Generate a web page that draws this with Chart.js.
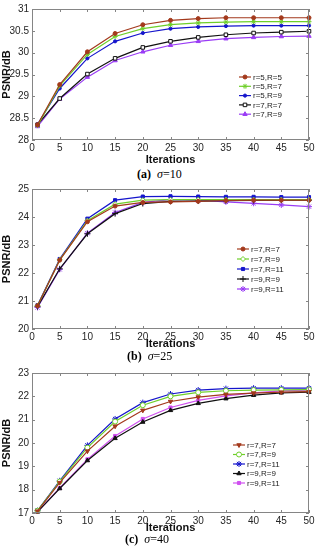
<!DOCTYPE html>
<html lang="en">
<head>
<meta charset="UTF-8">
<title>PSNR vs Iterations</title>
<script src="https://cdn.jsdelivr.net/npm/chart.js@4.4.1/dist/chart.umd.min.js"></script>
<style>
    body { margin: 0; background: #fff; width: 317px; height: 550px; position: relative; overflow: hidden; }
    .panel { position: absolute; left: 0; width: 317px; }
    .caption { position: absolute; font-family: 'Liberation Serif', 'Times New Roman', serif; font-size: 12px; color: #000; white-space: nowrap; line-height: 14px; }
</style>
</head>
<body>
<div class="panel" style="top:0;height:167px"><canvas id="chartA" width="317" height="167"></canvas></div>
<div class="caption" style="left:137px;top:167px"><b>(a)</b>&nbsp;&nbsp;<i>σ</i>=10</div>

<div class="panel" style="top:180px;height:171px"><canvas id="chartB" width="317" height="171"></canvas></div>
<div class="caption" style="left:127px;top:349px"><b>(b)</b>&nbsp;&nbsp;<i>σ</i>=25</div>

<div class="panel" style="top:364px;height:171px"><canvas id="chartC" width="317" height="171"></canvas></div>
<div class="caption" style="left:125px;top:532px"><b>(c)</b>&nbsp;&nbsp;<i>σ</i>=40</div>

<script>
// iterations where PSNR was measured
const iterations = [1, 5, 10, 15, 20, 25, 30, 35, 40, 45, 50];
const xTicks = [0, 5, 10, 15, 20, 25, 30, 35, 40, 45, 50];

// (a) sigma = 10
const labelsA = ['r=5,R=5', 'r=5,R=7', 'r=5,R=9', 'r=7,R=7', 'r=7,R=9'];
const a_r5R5 = [28.35, 29.27, 30.02, 30.44, 30.64, 30.74, 30.78, 30.80, 30.80, 30.80, 30.80];
const a_r5R7 = [28.33, 29.24, 29.96, 30.37, 30.55, 30.64, 30.68, 30.70, 30.71, 30.71, 30.71];
const a_r5R9 = [28.36, 29.18, 29.87, 30.26, 30.45, 30.55, 30.59, 30.61, 30.62, 30.62, 30.62];
const a_r7R7 = [28.35, 28.95, 29.51, 29.87, 30.12, 30.26, 30.35, 30.41, 30.45, 30.47, 30.49];
const a_r7R9 = [28.31, 28.94, 29.44, 29.82, 30.02, 30.17, 30.26, 30.32, 30.35, 30.37, 30.38];
const yTicksA = [28, 28.5, 29, 29.5, 30, 30.5, 31];

// (b) sigma = 25
const labelsB = ['r=7,R=7', 'r=7,R=9', 'r=7,R=11', 'r=9,R=9', 'r=9,R=11'];
const b_r7R7 = [20.83, 22.46, 23.83, 24.39, 24.52, 24.54, 24.56, 24.59, 24.60, 24.60, 24.60];
const b_r7R9 = [20.83, 22.47, 23.87, 24.46, 24.60, 24.62, 24.62, 24.62, 24.62, 24.62, 24.62];
const b_r7R11 = [20.85, 22.50, 23.94, 24.60, 24.73, 24.74, 24.73, 24.72, 24.72, 24.71, 24.71];
const b_r9R9 = [20.80, 22.15, 23.40, 24.12, 24.48, 24.56, 24.57, 24.58, 24.59, 24.60, 24.60];
const b_r9R11 = [20.77, 22.13, 23.42, 24.16, 24.52, 24.62, 24.60, 24.54, 24.49, 24.43, 24.37];
const yTicksB = [20, 21, 22, 23, 24, 25];

// (c) sigma = 40
const labelsC = ['r=7,R=7', 'r=7,R=9', 'r=7,R=11', 'r=9,R=9', 'r=9,R=11'];
const c_r7R7 = [17.08, 18.30, 19.65, 20.72, 21.40, 21.78, 21.97, 22.08, 22.14, 22.18, 22.20];
const c_r7R9 = [17.10, 18.35, 19.80, 20.92, 21.62, 22.00, 22.17, 22.24, 22.27, 22.28, 22.29];
const c_r7R11 = [17.10, 18.38, 19.90, 21.03, 21.73, 22.10, 22.27, 22.33, 22.35, 22.35, 22.35];
const c_r9R9 = [17.05, 18.05, 19.25, 20.20, 20.90, 21.40, 21.70, 21.90, 22.05, 22.15, 22.18];
const c_r9R11 = [17.05, 18.07, 19.30, 20.30, 21.03, 21.52, 21.83, 22.02, 22.15, 22.23, 22.27];
const yTicksC = [17, 18, 19, 20, 21, 22, 23];

const tickFont = { family: "'Liberation Sans', Arial, sans-serif", size: 10 };
const titleFont = { family: "'Liberation Sans', Arial, sans-serif", size: 11, weight: 'bold' };

function series(label, values, color, style) {
    return Object.assign({
        label: label,
        data: values.map((v, i) => ({ x: iterations[i], y: v })),
        borderColor: color,
        backgroundColor: color,
        pointBorderColor: color,
        pointBackgroundColor: color,
        borderWidth: 1.2,
        pointBorderWidth: 1,
        pointRadius: 2,
        tension: 0,
        clip: false
    }, style || {});
}

// MATLAB-like box with inward ticks, plus a legend drawn inside the axes
const boxPlugin = {
    id: 'box',
    afterDraw(chart) {
        const ctx = chart.ctx;
        const a = chart.chartArea;
        const xs = chart.scales.x, ys = chart.scales.y;
        ctx.save();
        ctx.strokeStyle = '#858585';
        ctx.lineWidth = 1;
        ctx.strokeRect(a.left + 0.5, a.top + 0.5, a.right - a.left - 1, a.bottom - a.top - 1);
        ctx.beginPath();
        xs.ticks.forEach(t => {
            const px = Math.round(xs.getPixelForValue(t.value)) + 0.5;
            ctx.moveTo(px, a.bottom); ctx.lineTo(px, a.bottom - 3);
            ctx.moveTo(px, a.top); ctx.lineTo(px, a.top + 3);
        });
        ys.ticks.forEach(t => {
            const py = Math.round(ys.getPixelForValue(t.value)) + 0.5;
            ctx.moveTo(a.left, py); ctx.lineTo(a.left + 3, py);
            ctx.moveTo(a.right, py); ctx.lineTo(a.right - 3, py);
        });
        ctx.stroke();

        const lg = chart.options.plugins.box;
        ctx.font = "8px 'Liberation Sans', Arial, sans-serif";
        ctx.textBaseline = 'middle';
        chart.data.datasets.forEach((ds, i) => {
            const y = lg.y + i * lg.dy;
            ctx.strokeStyle = ds.borderColor;
            ctx.lineWidth = 1.2;
            ctx.beginPath();
            ctx.moveTo(lg.x, y); ctx.lineTo(lg.x + lg.len, y);
            ctx.stroke();
            ctx.fillStyle = ds.pointBackgroundColor;
            ctx.strokeStyle = ds.pointBorderColor;
            ctx.lineWidth = 1;
            Chart.helpers.drawPoint(ctx, {
                pointStyle: ds.pointStyle || 'circle',
                radius: ds.pointRadius,
                rotation: ds.pointRotation || 0,
                borderWidth: 1
            }, lg.x + lg.len / 2, y);
            ctx.fillStyle = '#222';
            ctx.fillText(ds.label, lg.x + lg.len + 2, y + 0.5);
        });
        ctx.restore();
    }
};

function makeChart(id, datasets, yTicks, opts) {
    return new Chart(document.getElementById(id), {
        type: 'line',
        data: { datasets: datasets },
        plugins: [boxPlugin],
        options: {
            responsive: false,
            animation: false,
            layout: { padding: { top: opts.top, right: 8, left: 0, bottom: 0 } },
            plugins: {
                legend: { display: false },
                tooltip: { enabled: false },
                box: opts.legend
            },
            scales: {
                x: {
                    type: 'linear',
                    min: 0, max: 50,
                    afterBuildTicks: s => { s.ticks = xTicks.map(v => ({ value: v })); },
                    afterFit: s => { s.height = opts.xh; },
                    grid: { display: false, drawTicks: false },
                    border: { display: false },
                    ticks: { font: tickFont, color: '#262626', padding: 2, maxRotation: 0, callback: v => String(v) },
                    title: { display: true, text: 'Iterations', font: titleFont, color: '#111', padding: 0 }
                },
                y: {
                    min: yTicks[0], max: yTicks[yTicks.length - 1],
                    afterBuildTicks: s => { s.ticks = yTicks.map(v => ({ value: v })); },
                    afterFit: s => { s.width = 32; },
                    grid: { display: false, drawTicks: false },
                    border: { display: false },
                    ticks: { font: tickFont, color: '#262626', padding: 3, callback: v => String(v) },
                    title: { display: true, text: 'PSNR/dB', font: titleFont, color: '#111', padding: 0 }
                }
            }
        }
    });
}

const brown = '#a3391c', green = '#6fcf2a', blue = '#1515cc', black = '#111111', purple = '#9a3cf5', magenta = '#d050f0';

makeChart('chartA', [
    series(labelsA[0], a_r5R5, brown, { pointRadius: 2 }),
    series(labelsA[1], a_r5R7, green, { pointStyle: 'star', pointRadius: 2.5 }),
    series(labelsA[2], a_r5R9, blue, { pointRadius: 1.6 }),
    series(labelsA[3], a_r7R7, black, { pointStyle: 'rect', pointRadius: 2.5, pointBackgroundColor: '#fff' }),
    series(labelsA[4], a_r7R9, purple, { pointStyle: 'triangle', pointRadius: 2.5 })
], yTicksA, { top: 7, xh: 27, legend: { x: 239, y: 77, dy: 9.3, len: 12 } });

makeChart('chartB', [
    series(labelsB[0], b_r7R7, brown, { pointRadius: 2 }),
    series(labelsB[1], b_r7R9, green, { pointStyle: 'rectRot', pointRadius: 2.5, pointBackgroundColor: '#fff' }),
    series(labelsB[2], b_r7R11, blue, { pointStyle: 'rect', pointRadius: 2.2 }),
    series(labelsB[3], b_r9R9, black, { pointStyle: 'cross', pointRadius: 3 }),
    series(labelsB[4], b_r9R11, purple, { pointStyle: 'star', pointRadius: 3 })
], yTicksB, { top: 6, xh: 22, legend: { x: 237, y: 69, dy: 10, len: 12 } });

makeChart('chartC', [
    series(labelsC[0], c_r7R7, brown, { pointStyle: 'triangle', pointRotation: 180, pointRadius: 2.5 }),
    series(labelsC[1], c_r7R9, green, { pointRadius: 2.5, pointBackgroundColor: '#fff' }),
    series(labelsC[2], c_r7R11, blue, { pointStyle: 'star', pointRadius: 3 }),
    series(labelsC[3], c_r9R9, black, { pointStyle: 'triangle', pointRadius: 2.5 }),
    series(labelsC[4], c_r9R11, magenta, { pointStyle: 'rect', pointRadius: 2.2 })
], yTicksC, { top: 6, xh: 22, legend: { x: 233, y: 81, dy: 9.5, len: 12 } });
</script>
</body>
</html>
